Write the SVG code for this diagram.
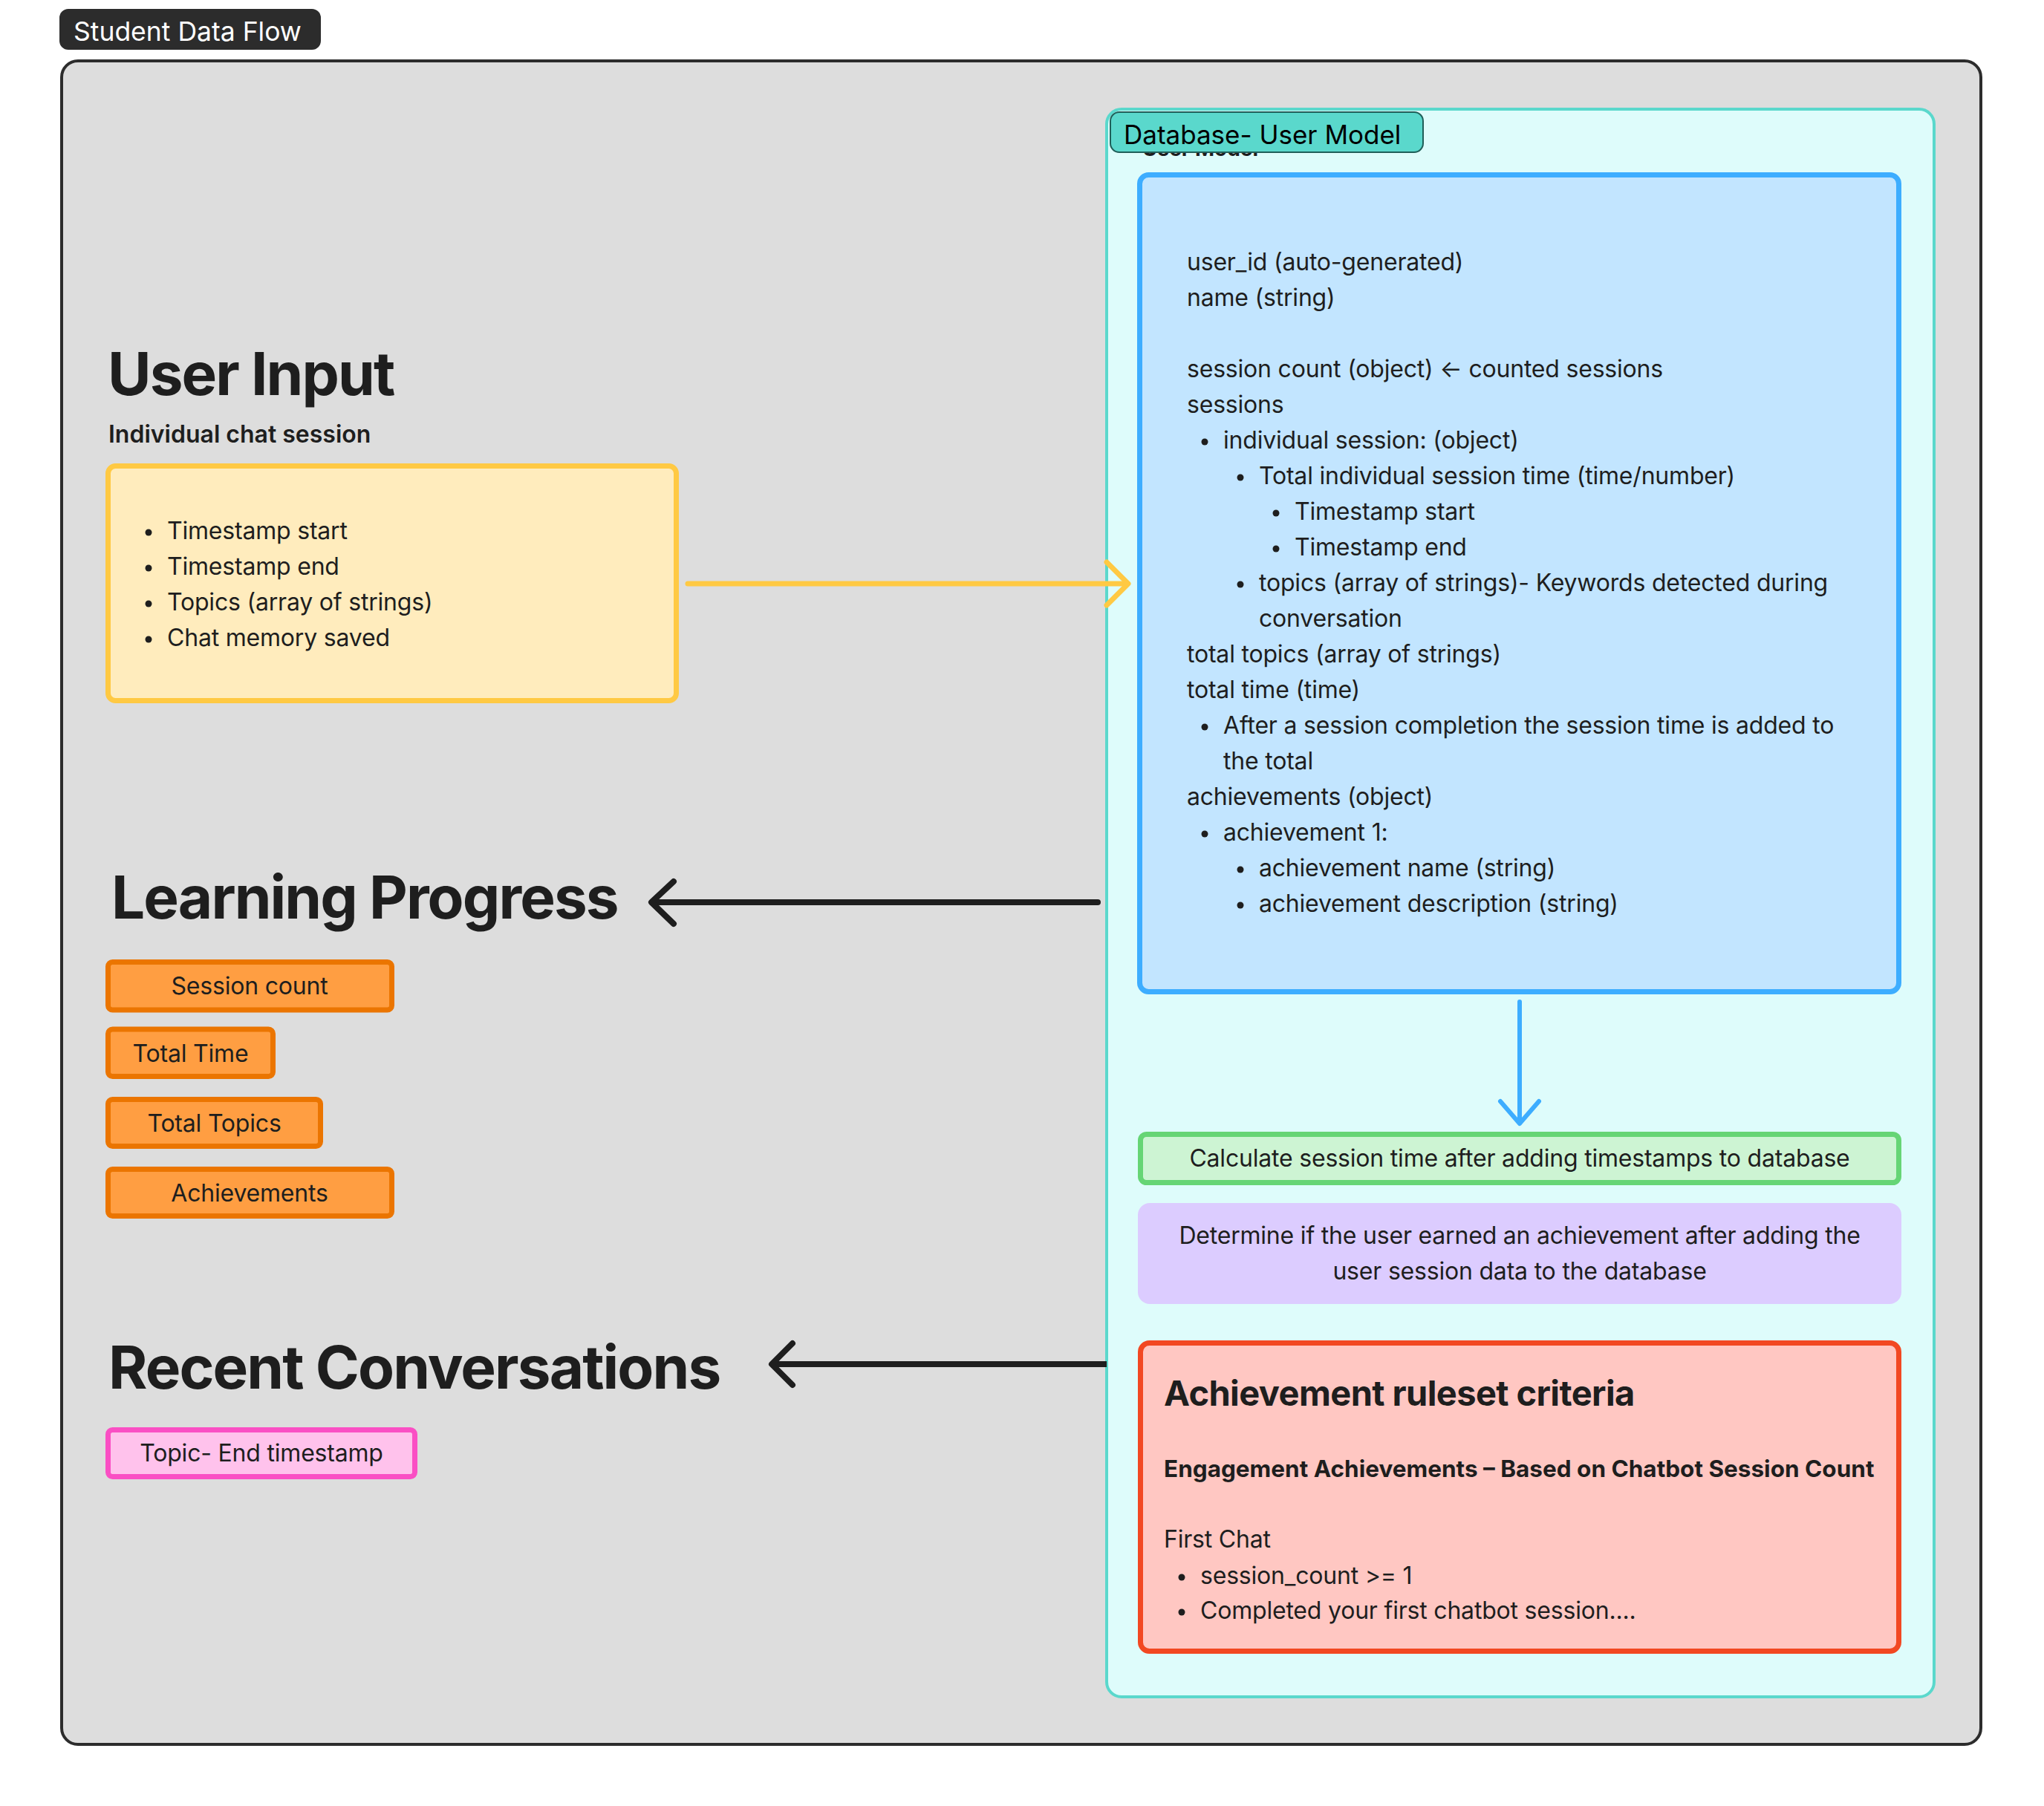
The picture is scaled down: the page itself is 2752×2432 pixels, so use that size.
<svg xmlns="http://www.w3.org/2000/svg" width="2752" height="2432" viewBox="0 0 2752 2432">
<style>
text{font-family:Inter,"Noto Sans","Liberation Sans",sans-serif;fill:#1e1e1e}
.body{font-size:32px;letter-spacing:-0.2px}
.h1{font-size:80px;font-weight:700;letter-spacing:-1.9px}
.c{text-anchor:middle}
.dot{fill:#1e1e1e}
.orange{fill:#FF9E42;stroke:#EB7500;stroke-width:7}
.conn{fill:none;stroke-linecap:round;stroke-linejoin:round}
</style>
<rect width="2752" height="2432" fill="#ffffff"/>

<g id="frame-student-data-flow">
<rect x="83" y="82" width="2584" height="2267" rx="22" fill="#DDDDDD" stroke="#2C2C2C" stroke-width="4"/>
<rect x="80" y="12" width="352" height="55" rx="12" fill="#2C2C2C"/>
<text x="99" y="55" style="font-size:35.5px;fill:#ffffff">Student Data Flow</text>
</g>

<g id="user-input">
<text x="145" y="532" class="h1">User Input</text>
<text x="146" y="596" style="font-size:32px;font-weight:600">Individual chat session</text>
<rect x="145.5" y="627.5" width="765" height="316" rx="10" fill="#FFECBD" stroke="#FFC943" stroke-width="7"/>
<circle cx="200" cy="717" r="4.5" class="dot"/>
<circle cx="200" cy="765" r="4.5" class="dot"/>
<circle cx="200" cy="813" r="4.5" class="dot"/>
<circle cx="200" cy="861" r="4.5" class="dot"/>
<text x="225" y="726" class="body">Timestamp start</text>
<text x="225" y="774" class="body">Timestamp end</text>
<text x="225" y="822" class="body">Topics (array of strings)</text>
<text x="225" y="870" class="body">Chat memory saved</text>
</g>

<g id="learning-progress">
<text x="150" y="1237" class="h1">Learning Progress</text>
</g>
<g id="session-count">
<rect x="145.5" y="1295.5" width="382" height="64.5" rx="6" class="orange"/>
<text x="336" y="1339" class="body c">Session count</text>
</g>
<g id="total-time">
<rect x="145.5" y="1386" width="222" height="63.5" rx="6" class="orange"/>
<text x="256.5" y="1430" class="body c">Total Time</text>
</g>
<g id="total-topics">
<rect x="145.5" y="1480.5" width="286" height="63" rx="6" class="orange"/>
<text x="288.5" y="1524" class="body c">Total Topics</text>
</g>
<g id="achievements">
<rect x="145.5" y="1574.5" width="382" height="63" rx="6" class="orange"/>
<text x="336" y="1618" class="body c">Achievements</text>
</g>

<g id="recent-conversations">
<text x="146" y="1870" class="h1">Recent Conversations</text>
</g>
<g id="topic-end-timestamp">
<rect x="145.5" y="1925.5" width="413" height="63" rx="6" fill="#FFC2EC" stroke="#FA4FC4" stroke-width="7"/>
<text x="352" y="1968" class="body c">Topic- End timestamp</text>
</g>

<g id="database-user-model">
<rect x="1490" y="147" width="1114" height="2138" rx="20" fill="#DEFCFB" stroke="#5AD8CC" stroke-width="4"/>
<text x="1538" y="210" style="font-size:28px;font-weight:700">User Model</text>
<rect x="1495" y="151" width="421" height="54" rx="12" fill="#5AD8CC" stroke="#1F5F59" stroke-width="2"/>
<text x="1513" y="194" style="font-size:35px;fill:#000000">Database- User Model</text>
</g>

<g id="user-model-schema">
<rect x="1534.5" y="235.5" width="1022" height="1100" rx="12" fill="#C2E5FF" stroke="#3DADFF" stroke-width="7"/>
<text x="1598" y="364" class="body">user_id (auto-generated)</text>
<text x="1598" y="412" class="body">name (string)</text>
<text x="1598" y="508" class="body">session count (object) ← counted sessions</text>
<text x="1598" y="556" class="body">sessions</text>
<circle cx="1622" cy="595" r="4.5" class="dot"/>
<text x="1647" y="604" class="body">individual session: (object)</text>
<circle cx="1670" cy="643" r="4.5" class="dot"/>
<text x="1695" y="652" class="body">Total individual session time (time/number)</text>
<circle cx="1718" cy="691" r="4.5" class="dot"/>
<text x="1743" y="700" class="body">Timestamp start</text>
<circle cx="1718" cy="739" r="4.5" class="dot"/>
<text x="1743" y="748" class="body">Timestamp end</text>
<circle cx="1670" cy="787" r="4.5" class="dot"/>
<text x="1695" y="796" class="body">topics (array of strings)- Keywords detected during</text>
<text x="1695" y="844" class="body">conversation</text>
<text x="1598" y="892" class="body">total topics (array of strings)</text>
<text x="1598" y="940" class="body">total time (time)</text>
<circle cx="1622" cy="979" r="4.5" class="dot"/>
<text x="1647" y="988" class="body">After a session completion the session time is added to</text>
<text x="1647" y="1036" class="body">the total</text>
<text x="1598" y="1084" class="body">achievements (object)</text>
<circle cx="1622" cy="1123" r="4.5" class="dot"/>
<text x="1647" y="1132" class="body">achievement 1:</text>
<circle cx="1670" cy="1171" r="4.5" class="dot"/>
<text x="1695" y="1180" class="body">achievement name (string)</text>
<circle cx="1670" cy="1219" r="4.5" class="dot"/>
<text x="1695" y="1228" class="body">achievement description (string)</text>
</g>

<g id="calculate-session-time">
<rect x="1535.5" y="1527.5" width="1021" height="65" rx="8" fill="#CDF4D3" stroke="#66D575" stroke-width="7"/>
<text x="2046" y="1571" class="body c">Calculate session time after adding timestamps to database</text>
</g>

<g id="determine-achievement">
<rect x="1532" y="1620" width="1028" height="136" rx="16" fill="#DCCCFF"/>
<text x="2046" y="1675" class="body c">Determine if the user earned an achievement after adding the</text>
<text x="2046" y="1723" class="body c">user session data to the database</text>
</g>

<g id="achievement-ruleset">
<rect x="1535.5" y="1808.5" width="1021" height="415" rx="12" fill="#FFC7C2" stroke="#F24822" stroke-width="7"/>
<text x="1567" y="1893" style="font-size:47px;font-weight:700;letter-spacing:-0.6px">Achievement ruleset criteria</text>
<text x="1567" y="1989" style="font-size:31.5px;font-weight:700">Engagement Achievements – Based on Chatbot Session Count</text>
<text x="1567" y="2084" class="body">First Chat</text>
<circle cx="1591" cy="2124" r="4.5" class="dot"/>
<text x="1616" y="2133" class="body">session_count &gt;= 1</text>
<circle cx="1591" cy="2171" r="4.5" class="dot"/>
<text x="1616" y="2180" class="body">Completed your first chatbot session....</text>
</g>

<g id="connectors">
<g class="conn" stroke="#FFC943" stroke-width="7">
<path d="M926 786 H1517"/>
<path d="M1490 757 L1519 786 L1490 815"/>
</g>
<g class="conn" stroke="#1E1E1E" stroke-width="8">
<path d="M1478 1215 H879"/>
<path d="M907 1187 L877 1215 L907 1244"/>
<path d="M1490 1837 H1041" stroke-linecap="butt"/>
<path d="M1067 1809 L1039 1837 L1067 1865"/>
</g>
<g class="conn" stroke="#3DADFF" stroke-width="6">
<path d="M2046 1349 V1511"/>
<path d="M2020 1483 L2046 1513 L2072 1483"/>
</g>
</g>
</svg>
